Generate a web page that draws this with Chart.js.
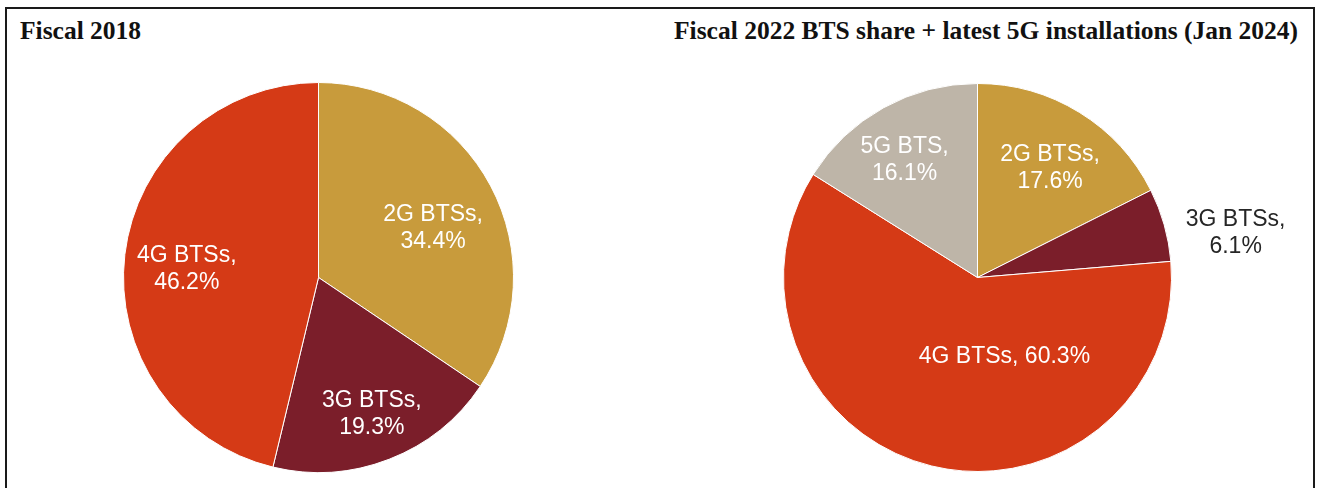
<!DOCTYPE html>
<html>
<head>
<meta charset="utf-8">
<script src="https://cdn.jsdelivr.net/npm/chart.js@4"></script>
<style>
  body { margin: 0; background: #fff; }
  #wrap { position: relative; width: 1319px; height: 488px; overflow: hidden; }
  #frame { position: absolute; left: 5px; top: 7px; width: 1306px; height: 520px; border: 2px solid #1a1a1a; }
  .title { position: absolute; top: 16px; font: bold 25.5px "Liberation Serif", "Times New Roman", serif; color: #111; white-space: nowrap; }
  #t1 { left: 20px; }
  #t2 { right: 21px; }
  canvas { position: absolute; }
  #pie2018 { left: 100px; top: 60px; }
  #pie2022 { left: 700px; top: 60px; }
</style>
</head>
<body>
<div id="wrap">
  <div id="frame"></div>
  <div class="title" id="t1">Fiscal 2018</div>
  <div class="title" id="t2">Fiscal 2022 BTS share + latest 5G installations (Jan 2024)</div>
  <canvas id="pie2018" width="440" height="428"></canvas>
  <canvas id="pie2022" width="600" height="428"></canvas>
</div>
<script>
// Fiscal 2018
const labels2018 = ["2G BTSs", "3G BTSs", "4G BTSs"];
const values2018 = [34.4, 19.3, 46.2];

// Fiscal 2022 + 5G (Jan 2024)
const labels2022 = ["2G BTSs", "3G BTSs", "4G BTSs", "5G BTS"];
const values2022 = [17.6, 6.1, 60.3, 16.1];

const COLORS = {
  "2G BTSs": "#C89B3C",
  "3G BTSs": "#7B1E2A",
  "4G BTSs": "#D53A16",
  "5G BTS": "#BEB5A8",
};

// label placement: radius fraction, angle nudge (deg), one line or two, text colour
const place2018 = [
  { r: 0.64, nudge: 4.7, lines: 2, color: "#fff" },
  { r: 0.75, nudge: -0.1, lines: 2, color: "#fff" },
  { r: 0.677, nudge: -3.2, lines: 2, color: "#fff" },
];
const place2022 = [
  { r: 0.675, nudge: 2, lines: 2, color: "#fff" },
  { r: 1.35, nudge: 6, lines: 2, color: "#262626" },
  { r: 0.43, nudge: -32.5, lines: 1, color: "#fff" },
  { r: 0.71, nudge: -3, lines: 2, color: "#fff" },
];

const sliceLabels = {
  id: "sliceLabels",
  afterDatasetsDraw(chart, args, opts) {
    const ctx = chart.ctx;
    const meta = chart.getDatasetMeta(0);
    const ds = chart.data.datasets[0];
    ctx.save();
    ctx.font = '23px "Liberation Sans", Arial, sans-serif';
    ctx.textAlign = "center";
    ctx.textBaseline = "middle";
    meta.data.forEach((arc, i) => {
      const p = opts.place[i];
      const a = (arc.startAngle + arc.endAngle) / 2 + (p.nudge * Math.PI) / 180;
      const x = arc.x + Math.cos(a) * arc.outerRadius * p.r;
      const y = arc.y + Math.sin(a) * arc.outerRadius * p.r;
      const name = chart.data.labels[i] + ",";
      const pct = ds.data[i].toFixed(1) + "%";
      ctx.fillStyle = p.color;
      if (p.lines === 1) {
        ctx.fillText(name + " " + pct, x, y);
      } else {
        ctx.fillText(name, x, y - 13.5);
        ctx.fillText(pct, x, y + 13.5);
      }
    });
    ctx.restore();
  },
};

function makePie(id, labels, values, place, padding) {
  new Chart(document.getElementById(id), {
    type: "pie",
    data: {
      labels,
      datasets: [
        {
          data: values,
          backgroundColor: labels.map((l) => COLORS[l]),
          borderColor: "#ffffff",
          borderWidth: 1,
        },
      ],
    },
    options: {
      responsive: false,
      animation: false,
      layout: { padding },
      plugins: {
        legend: { display: false },
        tooltip: { enabled: false },
        sliceLabels: { place },
      },
    },
    plugins: [sliceLabels],
  });
}

makePie("pie2018", labels2018, values2018, place2018, { left: 23, right: 26, top: 22, bottom: 15 });
makePie("pie2022", labels2022, values2022, place2022, { left: 83, right: 128, top: 23, bottom: 16 });
</script>
</body>
</html>
